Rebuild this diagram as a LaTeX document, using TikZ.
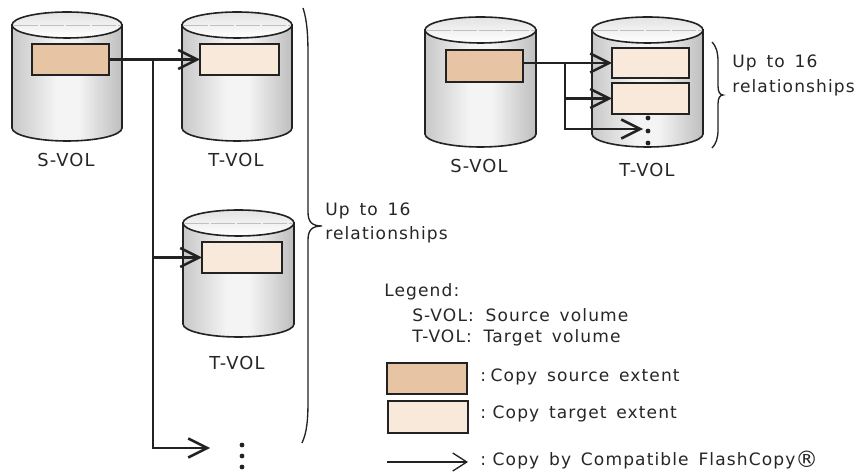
\documentclass[tikz,border=0pt]{standalone}
\usepackage{fontspec}
\setmainfont[LetterSpace=6.5,WordSpace=1.5]{DejaVu Sans}
\usetikzlibrary{arrows.meta}
\definecolor{srcfill}{HTML}{E6C4A4}
\definecolor{tgtfill}{HTML}{F8E9DA}
\definecolor{linec}{HTML}{222222}
\definecolor{cylA}{HTML}{C8C8C8}
\definecolor{cylB}{HTML}{F4F4F4}
\definecolor{cylC}{HTML}{BEBEBE}
\pgfdeclarehorizontalshading{cylside}{100bp}{color(0bp)=(cylA);color(25bp)=(cylA);color(45bp)=(cylB);color(55bp)=(cylB);color(75bp)=(cylC);color(100bp)=(cylC)}
\tikzset{
  x=0.75pt,y=-0.75pt,
  txt/.style={anchor=west,inner sep=0pt,text=black!85,font=\fontsize{12.8pt}{15pt}\selectfont},
  ctxt/.style={anchor=center,inner sep=0pt,text=black!85,font=\fontsize{13.4pt}{15pt}\selectfont},
  extent/.style={draw=linec,line width=1.3pt,inner sep=0pt,outer sep=0pt,anchor=north west},
  src/.style={extent,fill=srcfill},
  tgt/.style={extent,fill=tgtfill},
  copyarrow/.style={draw=linec,line width=2pt,-{Straight Barb[length=19*0.75pt,width=19*0.75pt,line width=1.9pt]}},
  brace/.style={draw=linec,line width=1pt,fill=none},
  vdot/.style={circle,fill=linec,minimum size=3.6pt,inner sep=0pt},
}
% #1 left, #2 right, #3 top of ellipse, #4 bottom of side wall
\newcommand{\cylinder}[4]{%
  \pgfmathsetmacro{\cxm}{(#1+#2)/2}%
  \pgfmathsetmacro{\rxv}{(#2-#1)/2}%
  \pgfmathsetmacro{\cyt}{#3+13}%
  \path[draw=linec,line width=1.2pt,shading=cylside,shading angle=0]
    (#1,\cyt) -- (#1,#4) arc[start angle=180,end angle=360,x radius=\rxv,y radius=-13] -- (#2,\cyt) -- cycle;
  \path[draw=linec,line width=1.2pt,top color=white!78!gray,bottom color=white]
    (\cxm,\cyt) ellipse[x radius=\rxv,y radius=13];
  \draw[black!25,line width=0.6pt,dash pattern=on 18pt off 1.5pt] (#1+2,\cyt) -- (#2-2,\cyt);
}
\begin{document}
\begin{tikzpicture}
\useasboundingbox (0,0) rectangle (856,473);
% left group cylinders
\cylinder{12}{122}{12}{128}
\cylinder{182}{292}{12}{128}
\cylinder{183}{294}{210}{324}
% right group cylinders
\cylinder{425}{536}{17}{134}
\cylinder{592}{703}{17}{134}
% extents
\node[src,minimum width=77*0.75pt,minimum height=31*0.75pt] (s1) at (32,44) {};
\node[tgt,minimum width=79*0.75pt,minimum height=31*0.75pt] (t1) at (200,44) {};
\node[tgt,minimum width=80*0.75pt,minimum height=31*0.75pt] (t2) at (202,242) {};
\node[src,minimum width=77*0.75pt,minimum height=32*0.75pt] (s2) at (446,50) {};
\node[tgt,minimum width=77*0.75pt,minimum height=30*0.75pt] (t3) at (612,48) {};
\node[tgt,minimum width=77*0.75pt,minimum height=31*0.75pt] (t4) at (612,83) {};
% left connectors
\coordinate (j1) at (153,59.5);
\coordinate (e1) at (210,448);
\path[copyarrow] (s1.east) -- (t1.west);
\path[copyarrow] (j1) |- (t2.west);
\path[copyarrow] (j1) |- (e1);
\node[vdot] (d1) at (242,445) {};
\node[vdot] (d2) at (242,456) {};
\node[vdot] (d3) at (242,467) {};
% right connectors
\coordinate (j2) at (565,63);
\coordinate (e2) at (643,129);
\path[copyarrow] (s2.east |- t3.west) -- (t3.west);
\path[copyarrow] (j2) |- (t4.west);
\path[copyarrow] (j2) |- (e2);
\node[vdot] (d4) at (648,118) {};
\node[vdot] (d5) at (648,131) {};
\node[vdot] (d6) at (648,143) {};
% braces
\draw[brace] (303,8) .. controls (307,20) and (308,35) .. (308,55) -- (308,212)
  .. controls (308,222) and (312,226) .. (322,226)
  .. controls (312,226) and (308,230) .. (308,240) -- (308,400)
  .. controls (308,420) and (307,432) .. (302,443);
\draw[brace] (712,42) .. controls (716,46) and (718,52) .. (718,62) -- (718,86)
  .. controls (718,92) and (720,95) .. (723,95)
  .. controls (720,95) and (718,98) .. (718,104) -- (718,130)
  .. controls (718,138) and (716,144) .. (712,148);
% labels
\node[ctxt] (l1) at (66,160) {S-VOL};
\node[ctxt] (l2) at (236,160) {T-VOL};
\node[ctxt] (l3) at (237,363) {T-VOL};
\node[ctxt] (l4) at (479,166) {S-VOL};
\node[ctxt] (l5) at (647,170) {T-VOL};
\node[txt] (u1) at (325,211) {Up to 16};
\node[txt] (u2) at (325,235) {relationships};
\node[txt] (u3) at (732,63) {Up to 16};
\node[txt] (u4) at (732,88) {relationships};
% legend
\node[txt] (g0) at (384,292) {Legend:};
\node[txt] (g1) at (412,315) {S-VOL:\hspace{1.5pt} Source volume};
\node[txt] (g2) at (412,338) {T-VOL:\hspace{1.5pt} Target volume};
\node[src,minimum width=80*0.75pt,minimum height=31*0.75pt] (k1) at (387,363) {};
\node[tgt,minimum width=80*0.75pt,minimum height=32*0.75pt] (k2) at (388,401) {};
\coordinate (k3a) at (387,462);
\coordinate (k3b) at (468,462);
\path[draw=linec,line width=1pt,-{Straight Barb[length=14*0.75pt,width=18*0.75pt,line width=1pt]}] (k3a) -- (k3b);
\node[txt] (g3) at (480,377) {:\hspace{3.5pt}Copy source extent};
\node[txt] (g4) at (480,414) {:\hspace{5pt}Copy target extent};
\node[txt] (g5) at (480,460) {:\hspace{5pt}Copy by Compatible FlashCopy\raisebox{-1.2pt}{\fontsize{17pt}{17pt}\selectfont ®}};
\end{tikzpicture}
\end{document}
